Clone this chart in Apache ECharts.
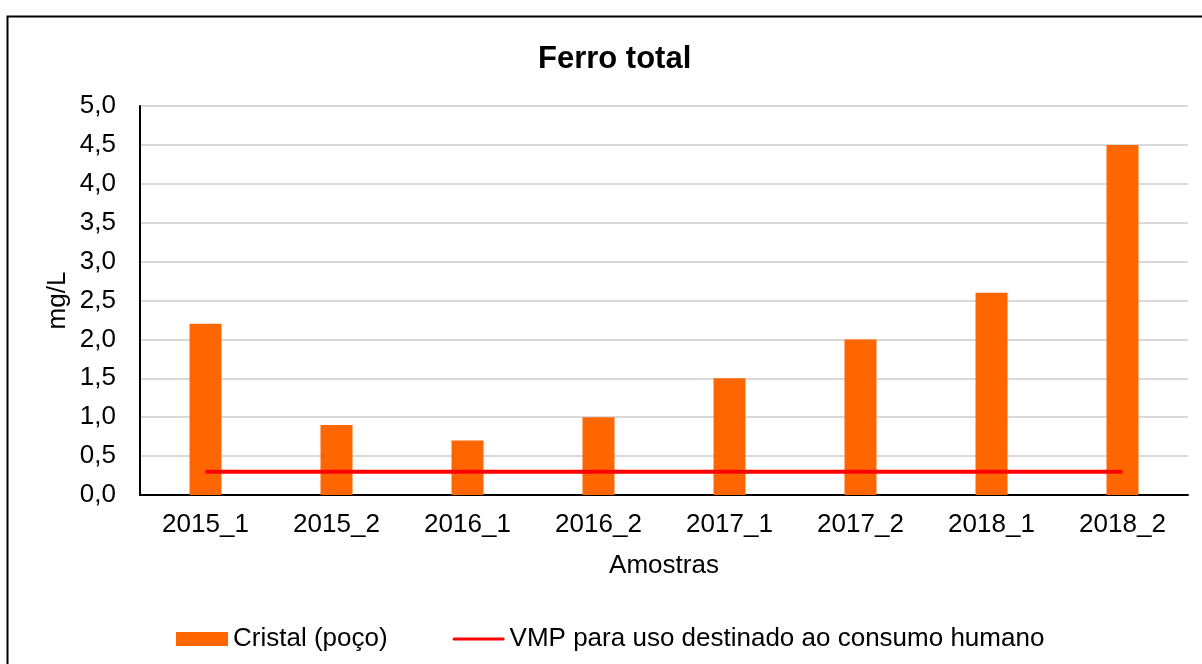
<!DOCTYPE html>
<html><head><meta charset="utf-8">
<script src="https://cdn.jsdelivr.net/npm/echarts@6/dist/echarts.min.js"></script>
<style>html,body{margin:0;padding:0;background:#fff}#c{width:1202px;height:664px}</style>
</head><body><div id="c"></div>
<script>
const categories = ['2015_1','2015_2','2016_1','2016_2','2017_1','2017_2','2018_1','2018_2'];
const cristal = [2.2, 0.9, 0.7, 1.0, 1.5, 2.0, 2.6, 4.5];
const vmp = [0.3, 0.3, 0.3, 0.3, 0.3, 0.3, 0.3, 0.3];
const seriesNames = ['Cristal (poço)', 'VMP para uso destinado ao consumo humano'];
const FONT = '"Liberation Sans", Arial, sans-serif';
const FS = 26;
const chart = echarts.init(document.getElementById('c'), null, {renderer:'canvas'});
chart.setOption({
  animation:false,
  backgroundColor:'#fff',
  textStyle:{fontFamily:FONT},
  graphic:[{type:'rect', shape:{x:7.5,y:16.5,width:1210,height:700}, style:{fill:'none',stroke:'#000',lineWidth:2}, silent:true, z:-1}],
  title:{text:'Ferro total', left:533, top:39, textStyle:{fontFamily:FONT,fontSize:31,fontWeight:'bold',color:'#000'}},
  grid:{left:140, right:14, top:106, height:389, containLabel:false},
  legend:{left:171, top:621, itemGap:65, itemWidth:52, itemHeight:14,
    textStyle:{fontFamily:FONT,fontSize:FS,color:'#000'},
    data:[{name:seriesNames[0], icon:'rect'},
          {name:seriesNames[1], icon:'path://M0,0 M52,14 M1.5,5.5 L50.5,5.5 A1.5,1.5 0 0 1 50.5,8.5 L1.5,8.5 A1.5,1.5 0 0 1 1.5,5.5 Z', itemStyle:{color:'#FF0000'}}]},
  xAxis:{type:'category', data:categories, name:'Amostras', nameLocation:'middle', nameGap:58,
    nameTextStyle:{fontFamily:FONT,fontSize:FS,color:'#000'},
    axisLine:{lineStyle:{color:'#000',width:2}}, axisTick:{show:false},
    axisLabel:{fontFamily:FONT,fontSize:FS,color:'#000',margin:17}},
  yAxis:{type:'value', min:0, max:5, interval:0.5, name:'mg/L', nameLocation:'middle', nameGap:69, nameRotate:90, nameMoveOverlap:false,
    nameTextStyle:{fontFamily:FONT,fontSize:FS,color:'#000'},
    axisLine:{show:true, lineStyle:{color:'#000',width:2}}, axisTick:{show:false},
    splitLine:{lineStyle:{color:'#d9d9d9',width:2}},
    axisLabel:{fontFamily:FONT,fontSize:FS,color:'#000',margin:24, formatter:v=>v.toFixed(1).replace('.',',')}},
  series:[
    {name:seriesNames[0], type:'bar', data:cristal, barWidth:32, itemStyle:{color:'#FF6600'}},
    {name:seriesNames[1], type:'line', data:vmp, symbol:'none', lineStyle:{color:'#FF0000',width:4}, itemStyle:{color:'#FF0000'}, z:5}
  ]
});
</script></body></html>
